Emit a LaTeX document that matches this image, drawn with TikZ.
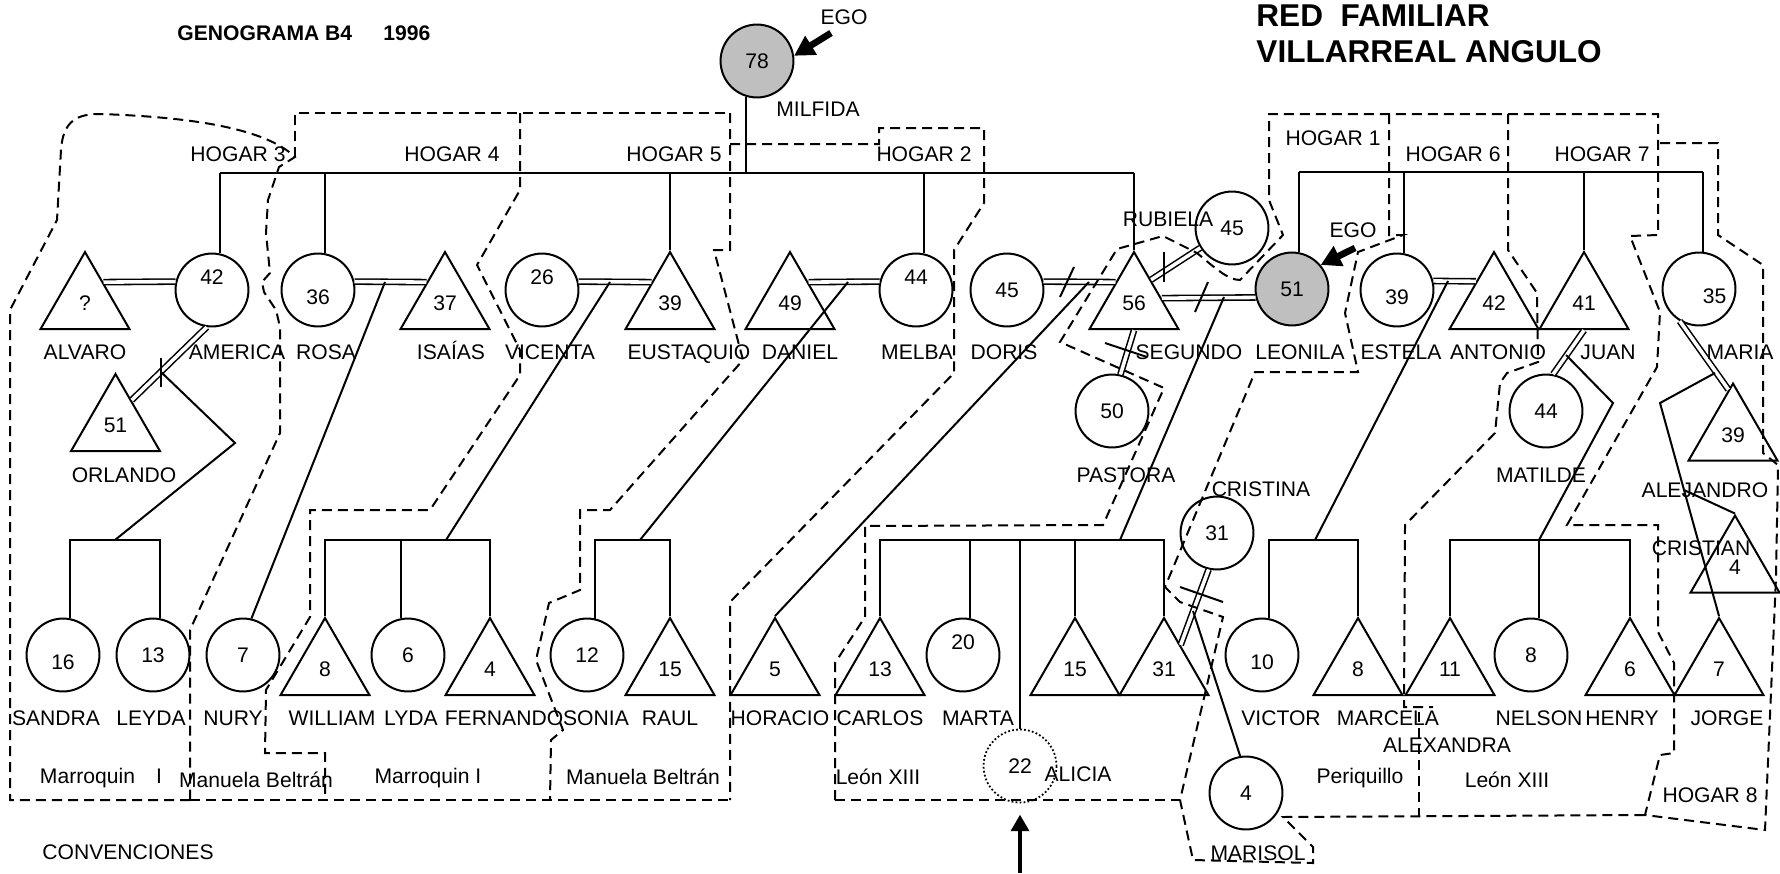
\documentclass[tikz,border=0pt]{standalone}
\usepackage{fontspec}
\setmainfont{Liberation Sans}
\usetikzlibrary{arrows.meta,calc,shapes.geometric}
\tikzset{
  fem/.style={circle, draw, line width=0.9pt, minimum size=32.8pt, inner sep=0pt,
              font=\fontsize{9.5}{11}\selectfont},
  masc/.style={regular polygon, regular polygon sides=3, draw, line width=0.9pt,
               minimum size=46.3pt, inner sep=0pt, font=\fontsize{9.5}{11}\selectfont},
  ego/.style={fill=gray!50},
  alto/.style={text height=6.8pt, text depth=11.5pt},
  bajo/.style={text height=13pt, text depth=0pt},
  nombre/.style={inner sep=0pt, font=\fontsize{9.5}{11}\selectfont, text height=6.8pt, text depth=0pt},
  lazo/.style={line width=0.9pt},
  pareja/.style={double, double distance=1.6pt, line width=0.7pt},
  hogar/.style={line width=0.9pt, dash pattern=on 4.5pt off 2.7pt},
  egoflecha/.style={-{Triangle[length=9pt,width=9.5pt]}, line width=3pt},
  flechaA/.style={-{Triangle[length=7.5pt,width=8pt]}, line width=2pt, shorten >=5pt},
}

\begin{document}
\begin{tikzpicture}[x=0.45pt, y=-0.45pt]
    \fill[white] (0,0) rectangle (1780,873);
    \useasboundingbox (0,0) rectangle (1780,873);

    \node[anchor=west, inner sep=0pt, font=\bfseries\fontsize{9.5}{11}\selectfont] (titulo) at (177,33) {GENOGRAMA B4\hspace{14pt}1996};
    \node[anchor=west, inner sep=0pt, font=\bfseries\fontsize{14.2}{16}\selectfont] (red) at (1256,16) {RED\ \ FAMILIAR};
    \node[anchor=west, inner sep=0pt, font=\bfseries\fontsize{14.2}{16}\selectfont] (villa) at (1256,52) {VILLARREAL ANGULO};

    % primera generacion
    \node[fem, ego] (MILFIDA) at (757,61) {78};

    % segunda generacion
    \node[masc] (ALVARO) at (85,303.5) {?};
    \node[fem, alto] (AMERICA) at (212,290) {42};
    \node[fem, bajo] (ROSA) at (318,290) {36};
    \node[masc] (ISAIAS) at (445,303.5) {37};
    \node[fem, alto] (VICENTA) at (542,290) {26};
    \node[masc] (EUSTAQUIO) at (670,303.5) {39};
    \node[masc] (DANIEL) at (790,303.5) {49};
    \node[fem, alto] (MELBA) at (916,290) {44};
    \node[fem] (DORIS) at (1007,290) {45};
    \node[masc] (SEGUNDO) at (1134,303.5) {56};
    \node[fem] (RUBIELA) at (1232,228) {45};
    \node[fem, ego] (LEONILA) at (1292,289) {51};
    \node[fem, bajo] (ESTELA) at (1397,290) {39};
    \node[masc] (ANTONIO) at (1494,303.5) {42};
    \node[masc] (JUAN) at (1584,303.5) {41};
    \node[fem, bajo] (MARIA) at (1699,289) {\hspace{14pt}35};

    \node[masc] (ORLANDO) at (115.5,425.5) {51};
    \node[fem] (PASTORA) at (1112,411) {50};
    \node[fem] (MATILDE) at (1546,411) {44};
    \node[masc] (ALEJANDRO) at (1733,435) {39};
    \node[fem] (CRISTINA) at (1217,533) {31};
    \node[masc] (CRISTIAN) at (1735,567) {4};

    % tercera generacion
    \node[fem, bajo] (SANDRA) at (63,655) {16};
    \node[fem] (LEYDA) at (153,655) {13};
    \node[fem] (NURY) at (243,655) {7};
    \node[masc] (WILLIAM) at (325,669.5) {8};
    \node[fem] (LYDA) at (408,655) {6};
    \node[masc] (FERNANDO) at (490,669.5) {4};
    \node[fem] (SONIA) at (587,655) {12};
    \node[masc] (RAUL) at (670,669.5) {15};
    \node[masc] (HORACIO) at (775,669.5) {5};
    \node[masc] (CARLOS) at (880,669.5) {13};
    \node[fem, alto] (MARTA) at (963,655) {20};
    \node[masc] (T15) at (1075,669.5) {15};
    \node[masc] (T31) at (1164,669.5) {31};
    \node[fem, bajo] (VICTOR) at (1262,655) {10};
    \node[masc] (MARCELA) at (1358,669.5) {8};
    \node[masc] (ALEXANDRA) at (1450,669.5) {11};
    \node[fem] (NELSON) at (1531,655) {8};
    \node[masc] (HENRY) at (1630,669.5) {6};
    \node[masc] (JORGE) at (1719,669.5) {7};
    \node[fem, draw=none] (ALICIA) at (1020,766) {22};
    \draw[densely dotted, line width=0.8pt] (ALICIA) circle[radius=36.5];
    \node[fem] (MARISOL) at (1246,793) {4};

    % uniones
    \draw[pareja] ($(ALVARO.corner 1)!0.4!(ALVARO.corner 3)$) -- (AMERICA.167);
    \draw[pareja] (AMERICA.262) -- ($(ORLANDO.corner 1)!0.35!(ORLANDO.corner 3)$);
    \draw[pareja] (ROSA.13) -- ($(ISAIAS.corner 1)!0.4!(ISAIAS.corner 2)$);
    \draw[pareja] (VICENTA.13) -- ($(EUSTAQUIO.corner 1)!0.4!(EUSTAQUIO.corner 2)$);
    \draw[pareja] ($(DANIEL.corner 1)!0.4!(DANIEL.corner 3)$) -- (MELBA.167);
    \draw[pareja] (DORIS.13) -- ($(SEGUNDO.corner 1)!0.4!(SEGUNDO.corner 2)$);
    \draw[pareja] ($(SEGUNDO.corner 1)!0.37!(SEGUNDO.corner 3)$) -- (RUBIELA.212);
    \draw[pareja] ($(SEGUNDO.corner 1)!0.6!(SEGUNDO.corner 3)$) -- (LEONILA.193);
    \draw[pareja] ($(SEGUNDO.corner 2)!0.5!(SEGUNDO.corner 3)$) -- (PASTORA.77);
    \draw[pareja] (ESTELA.14) -- ($(ANTONIO.corner 1)!0.39!(ANTONIO.corner 2)$);
    \draw[pareja] ($(JUAN.corner 2)!0.5!(JUAN.corner 3)$) -- (MATILDE.79);
    \draw[pareja] (MARIA.239) -- ($(ALEJANDRO.corner 1)!0.1!(ALEJANDRO.corner 2)$);
    \draw[pareja] (CRISTINA.257) -- ($(T31.corner 1)!0.36!(T31.corner 3)$);

    % separaciones
    \draw[lazo] (161,358) -- (161,387);
    \draw[lazo] (1060,297) -- (1074,267);
    \draw[lazo] (1164,252) -- (1164,282);
    \draw[lazo] (1195,312) -- (1208,282);
    \draw[lazo] (1105,343) -- (1147,357);
    \draw[lazo] (1180,587) -- (1223,602);

    % hermanos
    \coordinate (sibI) at (0,173);
    \coordinate (sibD) at (0,172);
    \draw[lazo] (MILFIDA.-107) -- (MILFIDA.-107|- sibI);
    \draw[lazo] (AMERICA.78|- sibI) -- (SEGUNDO.corner 1|- sibI);
    \foreach \p in {AMERICA.78, ROSA.79, EUSTAQUIO.corner 1, MELBA.78, SEGUNDO.corner 1}
        \draw[lazo] (\p) -- (\p|- sibI);
    \draw[lazo] (LEONILA.79|- sibD) -- (MARIA.84|- sibD);
    \foreach \p in {LEONILA.79, ESTELA.80, JUAN.corner 1, MARIA.84}
        \draw[lazo] (\p) -- (\p|- sibD);

    % hijos
    \coordinate (mAO) at (161,372);
    \coordinate (kAO) at (235,443);
    \coordinate (jSL) at (115,540);
    \coordinate (mRI) at (385,282);
    \coordinate (mVE) at (610,282);
    \coordinate (jWF) at (446,540);
    \coordinate (mDM) at (848,282);
    \coordinate (jSR) at (640,540);
    \coordinate (mDS) at (1089,282);
    \coordinate (mSL) at (1224,297);
    \coordinate (jCT) at (1120,540);
    \coordinate (mEA) at (1448,281);
    \coordinate (jVM) at (1315,540);
    \coordinate (mJM) at (1566,355);
    \coordinate (kJM) at (1613,403);
    \coordinate (jAH) at (1539,540);
    \coordinate (mMA) at (1715,373);
    \coordinate (jMA) at (1660,403);
    \coordinate (jCR) at (1684,490);
    \coordinate (mCT) at (1193,611);

    \draw[lazo] (mAO) -- (kAO) -- (jSL);
    \draw[lazo] (SANDRA.79) |- (jSL) -| (LEYDA.79);
    \draw[lazo] (mRI) -- (NURY.77);
    \draw[lazo] (mVE) -- (jWF);
    \draw[lazo] (WILLIAM.corner 1) |- (jWF) -| (FERNANDO.corner 1);
    \draw[lazo] (LYDA.101) -- (LYDA.101|- jWF);
    \draw[lazo] (mDM) -- (jSR);
    \draw[lazo] (SONIA.77) |- (jSR) -| (RAUL.corner 1);
    \draw[lazo] (mDS) -- (HORACIO.corner 1);
    \draw[lazo] (mSL) -- (jCT);
    \draw[lazo] (CARLOS.corner 1) |- (jCT) -| (T31.corner 1);
    \foreach \p in {MARTA.79, ALICIA.north, T15.corner 1}
        \draw[lazo] (\p) -- (\p|- jCT);
    \draw[lazo] (mEA) -- (jVM);
    \draw[lazo] (VICTOR.79) |- (jVM) -| (MARCELA.corner 1);
    \draw[lazo] (mJM) -- (kJM) -- (jAH);
    \draw[lazo] (ALEXANDRA.corner 1) |- (jAH) -| (HENRY.corner 1);
    \draw[lazo] (NELSON.78) -- (NELSON.78|- jAH);
    \draw[lazo] (mMA) -- (jMA) -- (jCR) -- (JORGE.corner 1);
    \draw[lazo] (jCR) -- (CRISTIAN.corner 1);
    \draw[lazo] (mCT) -- (MARISOL.99);

    % hogares
    \draw[hogar] (190,800) -- (10,800) -- (10,310) -- (57,220) -- (61,150)
        .. controls (63,120) and (78,114) .. (100,114)
        .. controls (190,117) and (265,128) .. (295,157)
        -- (279,167) -- (268,200) -- (266,233) -- (270,273) -- (262,282) -- (264,292)
        -- (276,310) -- (280,327) -- (280,433) -- (190,630) -- cycle;
    \draw[hogar] (295,157) -- (295,113) -- (730,113);
    \draw[hogar] (520,113) -- (520,190) -- (477,265) -- (520,350) -- (520,375) -- (430,510)
        -- (310,510) -- (310,617) -- (266,690) -- (265,753) -- (325,753) -- (325,800);
    \draw[hogar] (730,113) -- (730,250) -- (714,250) -- (743,360) -- (610,510) -- (580,510)
        -- (580,590) -- (549,603) -- (536,660) -- (563,730) -- (551,740) -- (550,800);
    \draw[hogar] (730,144) -- (879,144) -- (879,128) -- (984,128) -- (984,203) -- (954,250)
        -- (954,373) -- (730,602) -- (730,800);
    \draw[hogar] (190,800) -- (730,800);
    \draw[hogar] (835,800) -- (835,663) -- (865,617) -- (865,526) -- (1103,525) -- (1164,388)
        -- (1060,342) -- (1117,249) -- (1163,236) -- (1197,253)
        .. controls (1215,268) and (1228,280) .. (1240,280) -- (1283,235) -- (1269,200) -- (1269,114)
        -- (1658,114) -- (1658,235) -- (1630,236) -- (1660,312) -- (1657,367) -- (1567,525)
        -- (1658,525) -- (1658,632) -- (1674,663) -- (1674,753) -- (1660,755) -- (1645,815)
        -- (1765,830) -- (1776,577) -- (1778,465) -- (1763,453) -- (1763,265) -- (1718,235)
        -- (1718,143) -- (1658,143);
    \draw[hogar] (835,800) -- (1180,800);
    \draw[hogar] (1389,114) -- (1389,235) -- (1403,235) -- (1358,252) -- (1345,313) -- (1358,372)
        -- (1255,372) -- (1165,587) -- (1180,602) -- (1223,617) -- (1180,800) -- (1193,860)
        -- (1313,863) -- (1313,847) -- (1283,817) -- (1645,815);
    \draw[hogar] (1508,114) -- (1508,250) -- (1537,293) -- (1538,362) -- (1507,373) -- (1500,383)
        -- (1495,433) -- (1405,525) -- (1404,707) -- (1433,707);
    \draw[hogar] (1419,712) -- (1419,817);

    % nombres
    \node[nombre] (nMILFIDA) at (818,109) {MILFIDA};
    \node[nombre] (eMILFIDA) at (844,17) {EGO};
    \node[nombre] (eLEONILA) at (1353,230) {EGO};
    \node[nombre] (nALVARO) at (85,352) {ALVARO};
    \node[nombre] (nAMERICA) at (237,352) {AMERICA};
    \node[nombre] (nROSA) at (326,352) {ROSA};
    \node[nombre] (nISAIAS) at (451,352) {ISAÍAS};
    \node[nombre] (nVICENTA) at (550,352) {VICENTA};
    \node[nombre] (nEUSTAQUIO) at (689,352) {EUSTAQUIO};
    \node[nombre] (nDANIEL) at (800,352) {DANIEL};
    \node[nombre] (nMELBA) at (917,352) {MELBA};
    \node[nombre] (nDORIS) at (1004,352) {DORIS};
    \node[nombre] (nSEGUNDO) at (1189,352) {SEGUNDO};
    \node[nombre] (nLEONILA) at (1300,352) {LEONILA};
    \node[nombre] (nESTELA) at (1401,352) {ESTELA};
    \node[nombre] (nANTONIO) at (1498,352) {ANTONIO};
    \node[nombre] (nJUAN) at (1608,352) {JUAN};
    \node[nombre] (nMARIA) at (1740,352) {MARIA};
    \node[nombre] (nRUBIELA) at (1168,219) {RUBIELA};
    \node[nombre] (nORLANDO) at (124,475) {ORLANDO};
    \node[nombre] (nPASTORA) at (1126,475) {PASTORA};
    \node[nombre] (nMATILDE) at (1541,475) {MATILDE};
    \node[nombre] (nALEJANDRO) at (1705,490) {ALEJANDRO};
    \node[nombre] (nCRISTINA) at (1261,489) {CRISTINA};
    \node[nombre] (nCRISTIAN) at (1701,548) {CRISTIAN};
    \node[nombre] (nSANDRA) at (56,718) {SANDRA};
    \node[nombre] (nLEYDA) at (151,718) {LEYDA};
    \node[nombre] (nNURY) at (233,718) {NURY};
    \node[nombre] (nWILLIAM) at (332,718) {WILLIAM};
    \node[nombre] (nLYDA) at (411,718) {LYDA};
    \node[nombre] (nFERNANDO) at (504,718) {FERNANDO};
    \node[nombre] (nSONIA) at (596,718) {SONIA};
    \node[nombre] (nRAUL) at (670,718) {RAUL};
    \node[nombre] (nHORACIO) at (780,718) {HORACIO};
    \node[nombre] (nCARLOS) at (880,718) {CARLOS};
    \node[nombre] (nMARTA) at (978,718) {MARTA};
    \node[nombre] (nVICTOR) at (1281,718) {VICTOR};
    \node[nombre] (nMARCELA) at (1388,718) {MARCELA};
    \node[nombre] (nALEXANDRA) at (1447,745) {ALEXANDRA};
    \node[nombre] (nNELSON) at (1539,718) {NELSON};
    \node[nombre] (nHENRY) at (1622,718) {HENRY};
    \node[nombre] (nJORGE) at (1727,718) {JORGE};
    \node[nombre] (nALICIA) at (1078,774) {ALICIA};
    \node[nombre] (nMARISOL) at (1258,853) {MARISOL};

    \node[nombre] (h3) at (238,154) {HOGAR 3};
    \node[nombre] (h4) at (452,154) {HOGAR 4};
    \node[nombre] (h5) at (674,154) {HOGAR 5};
    \node[nombre] (h2) at (924,154) {HOGAR 2};
    \node[nombre] (h1) at (1333,138) {HOGAR 1};
    \node[nombre] (h6) at (1453,154) {HOGAR 6};
    \node[nombre] (h7) at (1602,154) {HOGAR 7};
    \node[nombre] (h8) at (1710,795) {HOGAR 8};

    \node[nombre] (b1) at (101,776) {Marroquin\quad I};
    \node[nombre] (b2) at (256,780) {Manuela Beltrán};
    \node[nombre] (b3) at (428,776) {Marroquin I};
    \node[nombre] (b4) at (643,777) {Manuela Beltrán};
    \node[nombre] (b5) at (878,777) {León XIII};
    \node[nombre] (b6) at (1360,776) {Periquillo};
    \node[nombre] (b7) at (1507,780) {León XIII};
    \node[nombre] (conv) at (128,852) {CONVENCIONES};

    % flechas
    \draw[egoflecha] ($(eMILFIDA.south)+(-13,8)$) -- (MILFIDA.8);
    \draw[egoflecha] ($(eLEONILA.south)+(2,10)$) -- (LEONILA.40);
    \coordinate (pie) at (1020,873);
    \draw[flechaA] (pie) -- (ALICIA.south);
\end{tikzpicture}
\end{document}
